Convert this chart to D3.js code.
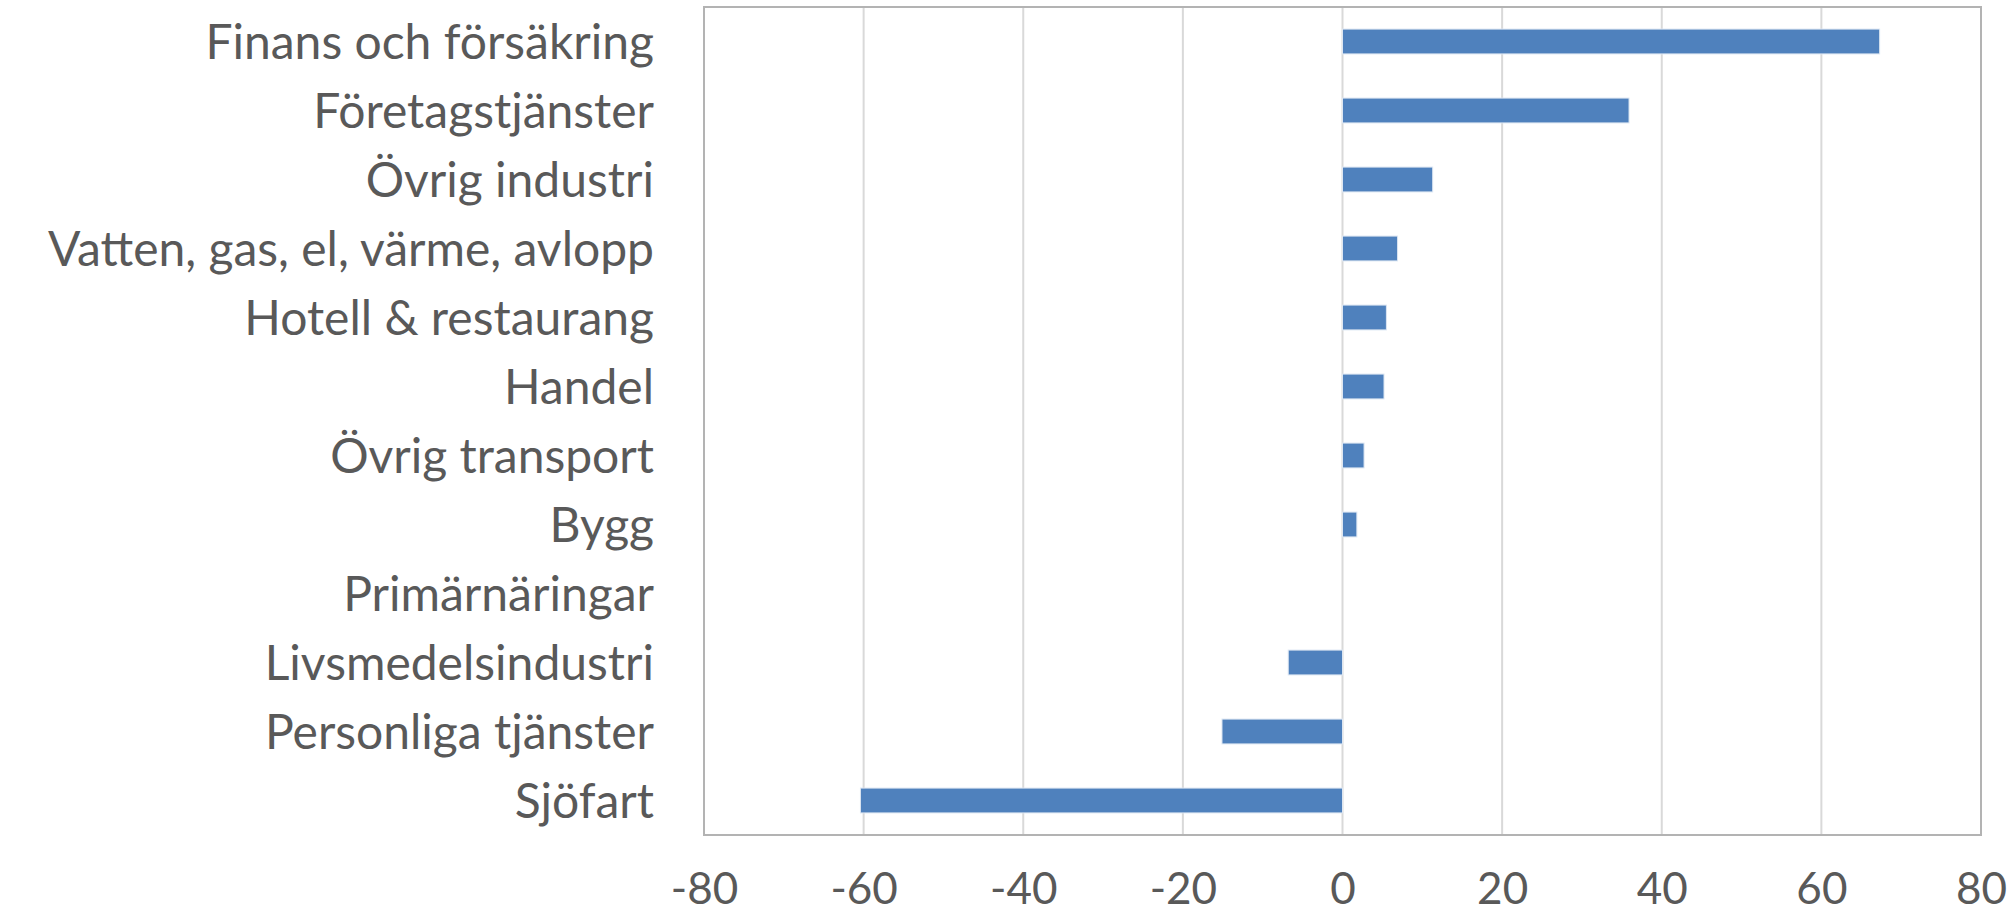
<!DOCTYPE html>
<html>
<head>
<meta charset="utf-8">
<script src="https://cdn.jsdelivr.net/npm/d3@7"></script>
<style>
    body { margin: 0; background: #fff; }
    text { font-family: Lato, "Open Sans", sans-serif; fill: #595959; }
</style>
</head>
<body>
<div class="chart"></div>
<script>
// categories top to bottom, with values
const categories = ["Finans och försäkring", "Företagstjänster", "Övrig industri",
    "Vatten, gas, el, värme, avlopp", "Hotell & restaurang", "Handel", "Övrig transport",
    "Bygg", "Primärnäringar", "Livsmedelsindustri", "Personliga tjänster", "Sjöfart"]
const values = [67.3, 35.9, 11.3, 6.9, 5.5, 5.2, 2.7, 1.8, 0, -6.8, -15.1, -60.4]
const xTicks = [-80, -60, -40, -20, 0, 20, 40, 60, 80]

let width = 2010
let height = 916
let margin = {top: 7, right: 29, bottom: 81, left: 704}

let svg = d3.select(".chart")
    .append("svg")
    .attr("width", width)
    .attr("height", height)

let x = d3.scaleLinear()
    .domain([-80, 80])
    .range([margin.left, width - margin.right])

let y = d3.scaleBand()
    .domain(categories)
    .range([margin.top, height - margin.bottom])
    .paddingInner(0.64)
    .paddingOuter(0.32)

// vertical gridlines
svg.append("g")
    .selectAll("line")
    .data(xTicks)
    .enter()
    .append("line")
    .attr("x1", d => x(d))
    .attr("x2", d => x(d))
    .attr("y1", margin.top)
    .attr("y2", height - margin.bottom)
    .attr("stroke", "#d9d9d9")
    .attr("stroke-width", 2)

// bars
svg.append("g")
    .selectAll("rect")
    .data(values)
    .enter()
    .append("rect")
    .attr("x", d => x(Math.min(0, d)))
    .attr("width", d => Math.abs(x(d) - x(0)))
    .attr("y", (d, i) => y(categories[i]))
    .attr("height", y.bandwidth())
    .attr("fill", "#4f81bd")
    .attr("stroke", "#dce6f2")
    .attr("stroke-width", 1)

// plot area frame
svg.append("rect")
    .attr("x", margin.left)
    .attr("y", margin.top)
    .attr("width", width - margin.right - margin.left)
    .attr("height", height - margin.bottom - margin.top)
    .attr("fill", "none")
    .attr("stroke", "#b3b3b3")
    .attr("stroke-width", 2)

// x axis tick labels (plain hyphen for the minus sign, like the original)
let xAxis = svg.append("g")
    .attr("transform", "translate(0," + (height - margin.bottom) + ")")
    .call(d3.axisBottom(x).tickValues(xTicks).tickSize(0).tickFormat(d => String(d)))
xAxis.select(".domain").remove()
xAxis.selectAll("text")
    .style("font-size", "44px")
    .style("font-family", "Lato, sans-serif")
    .attr("fill", "#595959")
    .attr("dy", 0)
    .attr("y", 69)

// category labels
let yAxis = svg.append("g")
    .attr("transform", "translate(" + (margin.left - 50) + ",0)")
    .call(d3.axisLeft(y).tickSize(0).tickPadding(0))
yAxis.select(".domain").remove()
yAxis.selectAll("text")
    .style("font-size", "48px")
    .style("font-family", "Lato, sans-serif")
    .attr("fill", "#595959")
    .attr("dy", "0.36em")
</script>
</body>
</html>
